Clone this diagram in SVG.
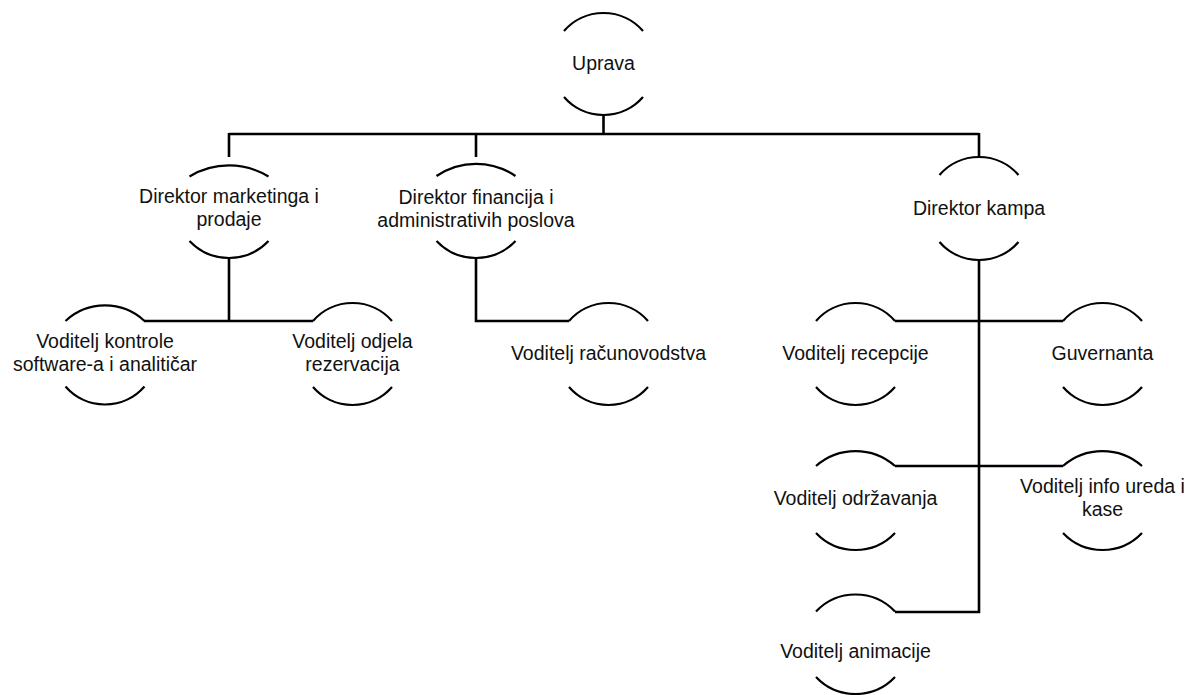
<svg xmlns="http://www.w3.org/2000/svg" width="1197" height="695" viewBox="0 0 1197 695">
<style>
.arc{fill:none;stroke:#000;stroke-width:2.2}
.conn{fill:none;stroke:#000;stroke-width:2.6}
text{font-family:"Liberation Sans",Arial,sans-serif;font-size:19.5px;fill:#111;text-anchor:middle}
</style>
<rect width="1197" height="695" fill="#fff"/>
<g id="connectors">
<path class="conn" d="M603.5 115 V134 M229 134 H979 M229 133 V157 M476 133 V157 M979 133 V157"/>
<path class="conn" d="M229 258 V321 M144 321 H313"/>
<path class="conn" d="M476 258 V321 H569"/>
<path class="conn" d="M979 260 V612 H895 M895 321 H1063 M895 466 H1063"/>
</g>
<g id="uprava">
<path class="arc" d="M564 31 A52.3 52.3 0 0 1 643 31 M564 97 A52.3 52.3 0 0 0 643 97"/>
<text x="603.5" y="70">Uprava</text>
</g>
<g id="dir-marketing">
<path class="arc" d="M189.5 176.5 A76 76 0 0 1 268.5 176.5 M189.5 241 A54.4 54.4 0 0 0 268.5 241"/>
<text x="229" y="203">Direktor marketinga i</text>
<text x="229" y="226">prodaje</text>
</g>
<g id="dir-financija">
<path class="arc" d="M436.5 176 A70 70 0 0 1 515.5 176 M436.5 241 A54.4 54.4 0 0 0 515.5 241"/>
<text x="476" y="204">Direktor financija i</text>
<text x="476" y="227">administrativih poslova</text>
</g>
<g id="dir-kampa">
<path class="arc" d="M939.5 175 A52.3 52.3 0 0 1 1018.5 175 M939.5 242 A52.3 52.3 0 0 0 1018.5 242"/>
<text x="979" y="215">Direktor kampa</text>
</g>
<g id="vod-kontrole">
<path class="arc" d="M65.5 321 A58 58 0 0 1 144.5 321 M65.5 386.5 A52.3 52.3 0 0 0 144.5 386.5"/>
<text x="105" y="348">Voditelj kontrole</text>
<text x="105" y="371">software-a i analitičar</text>
</g>
<g id="vod-rezervacija">
<path class="arc" d="M313 321 A52.3 52.3 0 0 1 392 321 M313 387 A52.3 52.3 0 0 0 392 387"/>
<text x="352.5" y="348">Voditelj odjela</text>
<text x="352.5" y="371">rezervacija</text>
</g>
<g id="vod-racunovodstva">
<path class="arc" d="M569 321 A52.3 52.3 0 0 1 648 321 M569 387 A52.3 52.3 0 0 0 648 387"/>
<text x="608.5" y="360">Voditelj računovodstva</text>
</g>
<g id="vod-recepcije">
<path class="arc" d="M816 321 A52.3 52.3 0 0 1 895 321 M816 387 A52.3 52.3 0 0 0 895 387"/>
<text x="855.5" y="360">Voditelj recepcije</text>
</g>
<g id="guvernanta">
<path class="arc" d="M1063 321 A52.3 52.3 0 0 1 1142 321 M1063 387 A52.3 52.3 0 0 0 1142 387"/>
<text x="1102.5" y="360">Guvernanta</text>
</g>
<g id="vod-odrzavanja">
<path class="arc" d="M816 466 A60 60 0 0 1 895 466 M816 533 A54.4 54.4 0 0 0 895 533"/>
<text x="855.5" y="505">Voditelj održavanja</text>
</g>
<g id="vod-info">
<path class="arc" d="M1063 466 A60 60 0 0 1 1142 466 M1063 533 A54.4 54.4 0 0 0 1142 533"/>
<text x="1102.5" y="493">Voditelj info ureda i</text>
<text x="1102.5" y="516">kase</text>
</g>
<g id="vod-animacije">
<path class="arc" d="M816 611.5 A54.4 54.4 0 0 1 895 611.5 M816 677 A54.4 54.4 0 0 0 895 677"/>
<text x="855.5" y="658">Voditelj animacije</text>
</g>
</svg>
